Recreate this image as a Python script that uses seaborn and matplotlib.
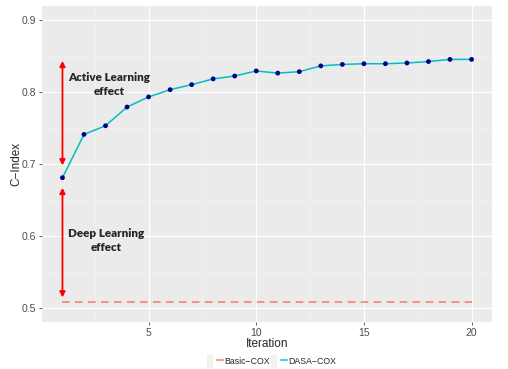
import matplotlib
matplotlib.use("Agg")
import matplotlib.pyplot as plt
import numpy as np
import pandas as pd
import seaborn as sns
from matplotlib.lines import Line2D
from matplotlib.patches import Rectangle
from matplotlib.legend_handler import HandlerTuple

iterations = list(range(1, 21))
dasa_cox = [0.681, 0.741, 0.753, 0.779, 0.793, 0.803, 0.810, 0.818, 0.822, 0.829,
            0.826, 0.828, 0.836, 0.838, 0.839, 0.839, 0.840, 0.842, 0.845, 0.845]
basic_cox = [0.509] * 20
series_names = ["Basic\u2212COX", "DASA\u2212COX"]
series_colors = ["#F8766D", "#00BFC4"]

df = pd.DataFrame({"Iteration": iterations, "DASA": dasa_cox, "Basic": basic_cox})

sns.set_theme(style="darkgrid", rc={
    "axes.facecolor": "#EBEBEB",
    "grid.color": "white",
    "axes.edgecolor": "none",
})
plt.rcParams["font.family"] = ["Liberation Sans", "DejaVu Sans"]

fig = plt.figure(figsize=(5.08, 3.69), dpi=100)
ax = fig.add_axes([0.0827, 0.1274, 0.8858, 0.8563])

sns.lineplot(data=df, x="Iteration", y="Basic", color=series_colors[0], lw=1.1,
             ax=ax, dashes=False, linestyle=(0, (5, 3.5)))
sns.lineplot(data=df, x="Iteration", y="DASA", color=series_colors[1], lw=1.1, ax=ax)
sns.scatterplot(data=df, x="Iteration", y="DASA", color="#00008B", s=12,
                edgecolor="none", ax=ax, zorder=4)

# arrows
arrow_kw = dict(arrowstyle="<|-|>", color="red", lw=1.3, mutation_scale=8,
                shrinkA=0, shrinkB=0)
ax.annotate("", xy=(1, 0.698), xytext=(1, 0.843), arrowprops=arrow_kw)
ax.annotate("", xy=(1, 0.515), xytext=(1, 0.667), arrowprops=arrow_kw)
txt_font = ["Lato", "DejaVu Sans"]
ax.text(3.17, 0.810, "Active Learning\neffect", ha="center", va="center",
        fontsize=8.4, fontweight="heavy", linespacing=1.35, family=txt_font)
ax.text(3.05, 0.594, "Deep Learning\neffect", ha="center", va="center",
        fontsize=8.4, fontweight="heavy", linespacing=1.35, family=txt_font)

ax.set_xlim(0.05, 20.95)
ax.set_ylim(0.481, 0.919)
ax.set_xticks([5, 10, 15, 20])
ax.set_yticks([0.5, 0.6, 0.7, 0.8, 0.9])
ax.set_xticks([2.5, 7.5, 12.5, 17.5], minor=True)
ax.set_yticks([0.55, 0.65, 0.75, 0.85], minor=True)
ax.grid(which="major", color="white", lw=0.8)
ax.grid(which="minor", color="#F5F5F5", lw=0.4)
ax.tick_params(axis="both", which="major", labelsize=7.5, labelcolor="#4D4D4D",
               length=2.5, width=0.6, color="#4D4D4D", pad=1.5, bottom=True, left=True)
ax.tick_params(which="minor", length=0)
ax.set_xlabel("Iteration", fontsize=8.5, labelpad=0)
ax.set_ylabel("C\u2212Index", fontsize=8.5, labelpad=0)

handles = []
for c in series_colors:
    bg = Rectangle((0, 0), 1, 1, facecolor="#F2F2F2", edgecolor="none")
    ln = Line2D([], [], color=c, lw=1.6, alpha=0.7)
    handles.append((bg, ln))
fig.legend(handles, series_names, handler_map={tuple: HandlerTuple(ndivide=None)},
           loc="center", bbox_to_anchor=(0.535, 0.02), ncol=2, frameon=False,
           fontsize=6.3, handlelength=1.9, handleheight=1.9, columnspacing=0.05,
           handletextpad=0.15)

fig.savefig("out.png", dpi=100)
